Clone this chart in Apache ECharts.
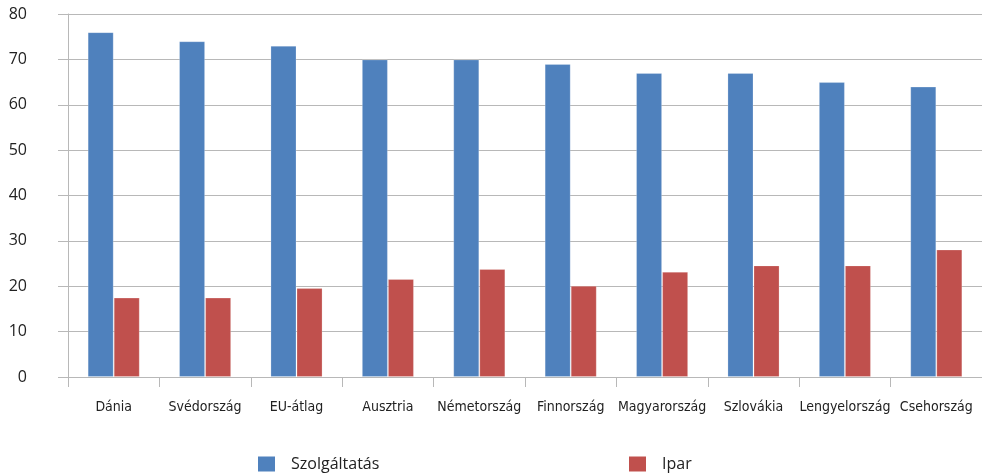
<!DOCTYPE html>
<html>
<head>
<meta charset="utf-8">
<script src="https://cdn.jsdelivr.net/npm/echarts@6/dist/echarts.min.js"></script>
<style>
  html, body { margin: 0; padding: 0; background: #fff; }
  #chart { width: 982px; height: 473px; }
</style>
</head>
<body>
<div id="chart"></div>
<script>
// Countries on the category axis
const countries = ['Dánia', 'Svédország', 'EU-átlag', 'Ausztria', 'Németország',
  'Finnország', 'Magyarország', 'Szlovákia', 'Lengyelország', 'Csehország'];

// Share by sector (%)
const szolgaltatas = [76, 74, 73, 70, 70, 69, 67, 67, 65, 64];
const ipar = [17.5, 17.5, 19.6, 21.6, 23.8, 20.1, 23.2, 24.6, 24.6, 28.1];

const seriesNames = ['Szolgáltatás', 'Ipar'];
const yTicks = { min: 0, max: 80, interval: 10 };

const regularFont = '"Open Sans", "Noto Sans", sans-serif';
const narrowFont = '"Liberation Sans Narrow", "DejaVu Sans Condensed", "Noto Sans", sans-serif';
const gridGray = '#b8b8b8';

const chart = echarts.init(document.getElementById('chart'), null, { renderer: 'canvas' });

const legendBase = {
  top: 456,
  padding: 0,
  itemWidth: 17,
  itemHeight: 15,
  icon: 'rect',
  itemStyle: { borderWidth: 0 },
  textStyle: { fontFamily: regularFont, fontSize: 16, color: '#222', padding: [0, 0, 0, 11] }
};

chart.setOption({
  animation: false,
  backgroundColor: '#fff',
  color: ['#4F81BD', '#C0504D'],
  grid: { left: 68, right: 0, top: 14, bottom: 96, containLabel: false },
  legend: [
    Object.assign({ left: 258, data: [seriesNames[0]] }, legendBase),
    Object.assign({ left: 629, data: [seriesNames[1]] }, legendBase)
  ],
  xAxis: {
    type: 'category',
    data: countries,
    axisLine: { show: true, lineStyle: { color: gridGray, width: 1 } },
    axisTick: { show: true, length: 10, lineStyle: { color: gridGray } },
    axisLabel: {
      margin: 23,
      interval: 0,
      fontFamily: narrowFont,
      fontSize: 14,
      color: '#222'
    }
  },
  yAxis: {
    type: 'value',
    min: yTicks.min,
    max: yTicks.max,
    interval: yTicks.interval,
    axisLine: { show: true, lineStyle: { color: gridGray, width: 1 } },
    axisTick: { show: true, length: 10, lineStyle: { color: gridGray } },
    splitLine: { show: true, lineStyle: { color: gridGray, width: 1 } },
    axisLabel: {
      margin: 41,
      align: 'right',
      fontFamily: regularFont,
      fontSize: 16,
      color: '#222'
    }
  },
  series: [
    {
      name: seriesNames[0],
      type: 'bar',
      data: szolgaltatas,
      barGap: '0%',
      barCategoryGap: '43%',
      itemStyle: { borderColor: 'rgba(255,255,255,0.22)', borderWidth: 1 }
    },
    {
      name: seriesNames[1],
      type: 'bar',
      data: ipar,
      barGap: '0%',
      barCategoryGap: '43%',
      itemStyle: { borderColor: 'rgba(255,255,255,0.22)', borderWidth: 1 }
    }
  ]
});
</script>
</body>
</html>
